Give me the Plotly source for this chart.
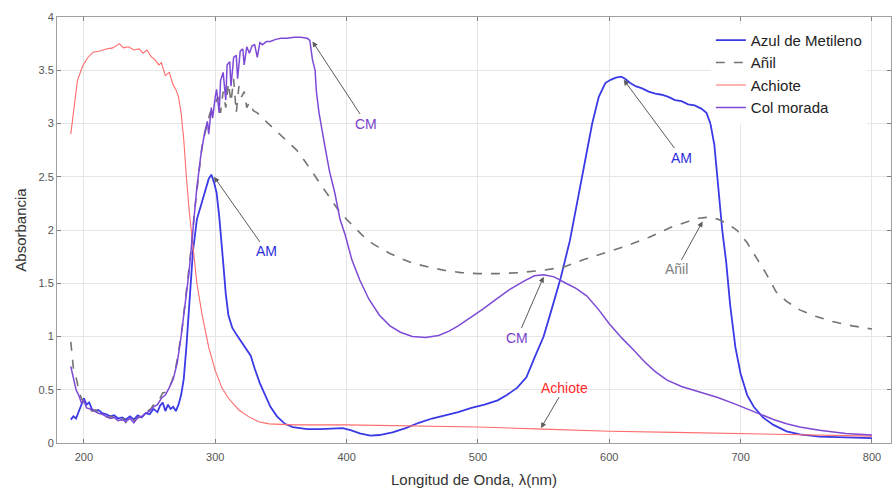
import plotly.graph_objects as go

# ---------------- data ----------------
am_x = [190, 192, 194, 196, 198, 200, 202, 204, 206, 208, 211, 214, 217, 220, 223, 226, 229, 232, 235, 238,
        241, 244, 247, 250, 253, 256, 258, 260, 262, 264, 266, 268, 270, 272, 274, 276, 278, 280, 283, 286,
        289, 292, 295, 297, 299, 301, 303, 306, 308, 310, 313, 316, 320, 324, 327, 330, 334, 338, 342, 347,
        353, 359, 370, 380, 390, 397, 403, 410, 418, 425, 435, 445, 455, 465, 475, 485, 495, 505, 515, 522,
        530, 537, 543, 550, 556, 563, 570, 576, 582, 587, 592, 597, 601, 605, 609, 612, 616, 620, 625, 630,
        635, 640, 645, 650, 655, 660, 665, 670, 674, 677, 680, 683, 686, 689, 692, 696, 700, 705, 710, 717,
        725, 735, 745, 760, 780, 800]
am_y = [0.22, 0.25, 0.23, 0.30, 0.35, 0.42, 0.36, 0.38, 0.32, 0.30, 0.31, 0.28, 0.27, 0.25, 0.26, 0.23, 0.24, 0.22, 0.25, 0.22,
        0.26, 0.24, 0.28, 0.27, 0.32, 0.29, 0.35, 0.38, 0.30, 0.36, 0.32, 0.34, 0.30, 0.36, 0.45, 0.60, 0.90, 1.25, 1.80, 2.10,
        2.22, 2.35, 2.48, 2.52, 2.45, 2.35, 2.13, 1.70, 1.40, 1.20, 1.08, 1.02, 0.95, 0.88, 0.82, 0.70, 0.56, 0.45, 0.34, 0.25,
        0.18, 0.15, 0.13, 0.13, 0.135, 0.14, 0.12, 0.09, 0.07, 0.075, 0.10, 0.14, 0.19, 0.23, 0.26, 0.29, 0.33, 0.36, 0.40, 0.45,
        0.52, 0.62, 0.80, 1.00, 1.25, 1.55, 1.90, 2.30, 2.70, 3.00, 3.25, 3.38, 3.41, 3.43, 3.44, 3.42, 3.38, 3.35, 3.33, 3.30,
        3.28, 3.27, 3.25, 3.22, 3.21, 3.18, 3.17, 3.14, 3.10, 3.00, 2.80, 2.40, 2.00, 1.70, 1.30, 0.90, 0.65, 0.45, 0.34, 0.24,
        0.17, 0.11, 0.08, 0.06, 0.05, 0.045]

anil_x = [190, 191, 192, 194, 196, 198, 200, 203, 206, 209, 212, 215, 218, 221, 224, 227, 230, 233, 236, 239,
          242, 245, 248, 251, 254, 257, 260, 263, 266, 269, 272, 275, 278, 281, 284, 287, 290, 293, 296, 299,
          302, 304, 306, 308, 310, 312, 314, 316, 318, 320, 322, 324, 326, 329, 332, 336, 342, 349, 356, 362,
          368, 374, 381, 387, 393, 400, 406, 412, 420, 427, 433, 440, 450, 463, 475, 487, 500, 515, 532, 548,
          565, 580, 595, 613, 630, 648, 660, 668, 675, 683, 690, 697, 705, 712, 719, 727, 735, 745, 757, 770,
          785, 800]
anil_y = [0.95, 0.85, 0.70, 0.62, 0.50, 0.42, 0.38, 0.35, 0.30, 0.31, 0.27, 0.26, 0.24, 0.25, 0.22, 0.20, 0.23, 0.17, 0.20, 0.22,
          0.24, 0.27, 0.30, 0.32, 0.38, 0.40, 0.47, 0.48, 0.55, 0.65, 0.85, 1.10, 1.40, 1.75, 2.15, 2.50, 2.80, 2.95, 3.10, 3.15,
          3.25, 3.10, 3.30, 3.15, 3.38, 3.20, 3.42, 3.10, 3.35, 3.25, 3.30, 3.15, 3.20, 3.12, 3.10, 3.05, 2.98, 2.90, 2.82, 2.75,
          2.65, 2.54, 2.42, 2.30, 2.20, 2.10, 2.02, 1.95, 1.87, 1.82, 1.78, 1.74, 1.69, 1.65, 1.62, 1.60, 1.59, 1.59, 1.60, 1.62,
          1.65, 1.72, 1.78, 1.85, 1.93, 2.03, 2.08, 2.11, 2.12, 2.10, 2.06, 2.00, 1.88, 1.74, 1.60, 1.42, 1.33, 1.25, 1.19, 1.14,
          1.10, 1.07]

ach_x = [190, 191, 193, 195, 199, 203, 207, 212, 217, 222, 227, 230, 234, 238, 242, 245, 248, 251, 254, 257,
         259, 262, 265, 268, 270, 272, 274, 276, 278, 280, 283, 286, 290, 295, 300, 305, 310, 318, 325, 333,
         341, 360, 400, 450, 500, 550, 600, 650, 700, 750, 800]
ach_y = [2.90, 3.00, 3.25, 3.40, 3.54, 3.62, 3.67, 3.68, 3.70, 3.71, 3.75, 3.71, 3.72, 3.69, 3.70, 3.66, 3.69, 3.63, 3.60, 3.55,
         3.57, 3.45, 3.48, 3.36, 3.32, 3.25, 3.10, 2.85, 2.50, 2.20, 1.85, 1.50, 1.20, 0.90, 0.68, 0.52, 0.42, 0.31, 0.25, 0.20,
         0.18, 0.17, 0.17, 0.16, 0.15, 0.13, 0.11, 0.10, 0.09, 0.08, 0.065]

cm_x = [190, 192, 194, 196, 198, 200, 202, 205, 208, 211, 214, 217, 220, 223, 226, 229, 232, 235, 238, 241,
        244, 247, 250, 253, 256, 259, 262, 265, 268, 271, 274, 277, 280, 283, 286, 289, 292, 294, 295, 297,
        298, 300, 301, 303, 304, 306, 308, 309, 311, 312, 314, 316, 317, 319, 321, 322, 324, 326, 328, 330,
        332, 334, 336, 339, 342, 346, 350, 355, 360, 365, 370, 372, 374, 376, 377, 379, 381, 384, 387, 391,
        395, 399, 404, 410, 417, 425, 433, 441, 450, 460, 470, 478, 485, 495, 504, 514, 524, 535, 543, 550,
        558, 567, 575, 583, 592, 600, 610, 618, 627, 635, 644, 655, 668, 682, 695, 705, 715, 725, 735, 745,
        760, 780, 800]
cm_y = [0.72, 0.60, 0.50, 0.45, 0.38, 0.40, 0.33, 0.32, 0.30, 0.28, 0.27, 0.25, 0.23, 0.24, 0.21, 0.22, 0.20, 0.23, 0.19, 0.24,
        0.25, 0.28, 0.30, 0.34, 0.36, 0.42, 0.45, 0.52, 0.60, 0.75, 1.00, 1.30, 1.60, 2.00, 2.40, 2.70, 2.92, 3.02, 2.90, 3.15,
        3.05, 3.25, 3.32, 3.10, 3.40, 3.48, 3.22, 3.55, 3.58, 3.35, 3.62, 3.64, 3.42, 3.68, 3.70, 3.55, 3.72, 3.66, 3.73, 3.74,
        3.62, 3.76, 3.74, 3.77, 3.77, 3.79, 3.80, 3.80, 3.81, 3.81, 3.80, 3.78, 3.60, 3.50, 3.30, 3.10, 2.95, 2.75, 2.55, 2.35,
        2.10, 1.95, 1.72, 1.53, 1.35, 1.20, 1.10, 1.04, 1.00, 0.99, 1.01, 1.05, 1.10, 1.18, 1.26, 1.35, 1.44, 1.52, 1.57, 1.58,
        1.56, 1.50, 1.45, 1.38, 1.25, 1.12, 0.98, 0.88, 0.76, 0.67, 0.59, 0.53, 0.48, 0.43, 0.37, 0.32, 0.27, 0.22, 0.18, 0.15,
        0.12, 0.09, 0.075]

x_ticks = [200, 300, 400, 500, 600, 700, 800]
y_ticks = [0, 0.5, 1, 1.5, 2, 2.5, 3, 3.5, 4]
y_tick_labels = ["0", "0.5", "1", "1.5", "2", "2.5", "3", "3.5", "4"]

# annotations: (label, text_x, text_y, tip_x, tip_y, color)
notes = [
    ("CM", 415, 3.00, 374, 3.77, "#7a3fcc"),
    ("AM", 339, 1.80, 299, 2.50, "#2d2de0"),
    ("AM", 655, 2.68, 611, 3.41, "#2d2de0"),
    ("Añil", 651, 1.63, 671, 2.08, "#808080"),
    ("CM", 530, 0.99, 550, 1.56, "#7a3fcc"),
    ("Achiote", 566, 0.52, 548, 0.14, "#ff2a2a"),
]

FONT = "Liberation Sans, Arial, sans-serif"

fig = go.Figure()
fig.add_trace(go.Scatter(x=am_x, y=am_y, mode="lines", name="Azul de Metileno",
                         line=dict(color="#3a3ae6", width=1.8)))
fig.add_trace(go.Scatter(x=anil_x, y=anil_y, mode="lines", name="Añil",
                         line=dict(color="#747474", width=1.6, dash="dash")))
fig.add_trace(go.Scatter(x=ach_x, y=ach_y, mode="lines", name="Achiote",
                         line=dict(color="#ff6b6b", width=1.1)))
fig.add_trace(go.Scatter(x=cm_x, y=cm_y, mode="lines", name="Col morada",
                         line=dict(color="#7d4ad6", width=1.5)))

for label, tx, ty, hx, hy, col in notes:
    fig.add_annotation(x=hx, y=hy, ax=tx, ay=ty, xref="x", yref="y", axref="x", ayref="y",
                       text=label, showarrow=True, arrowhead=2, arrowsize=1.1, arrowwidth=1,
                       arrowcolor="#5a5a5a", font=dict(family=FONT, size=14, color=col))

axis_common = dict(showline=True, linecolor="#a0a0a0", linewidth=1, mirror="allticks",
                   ticks="inside", ticklen=4, tickcolor="#808080",
                   showgrid=True, gridcolor="#e6e6e6", gridwidth=1, zeroline=False,
                   tickfont=dict(family=FONT, size=11, color="#555555"))

fig.update_xaxes(range=[179.5, 814.5], tickvals=x_ticks, ticklabelstandoff=4,
                 title=dict(text="Longitud de Onda, λ(nm)", font=dict(family=FONT, size=15, color="#333333"), standoff=12),
                 **axis_common)
fig.update_yaxes(range=[0, 4], tickvals=y_ticks, ticktext=y_tick_labels,
                 title=dict(text="Absorbancia", font=dict(family=FONT, size=15, color="#333333"), standoff=8),
                 **axis_common)

fig.update_layout(
    width=894, height=491,
    margin=dict(l=57, r=3, t=17, b=48),
    paper_bgcolor="white", plot_bgcolor="white",
    font=dict(family=FONT),
    legend=dict(x=0.784, y=0.984, xanchor="left", yanchor="top", bgcolor="rgba(255,255,255,0.9)",
                borderwidth=0, font=dict(family=FONT, size=15, color="#222222"),
                tracegroupgap=0, itemwidth=30),
    showlegend=True,
)

fig.write_html("out.html")
